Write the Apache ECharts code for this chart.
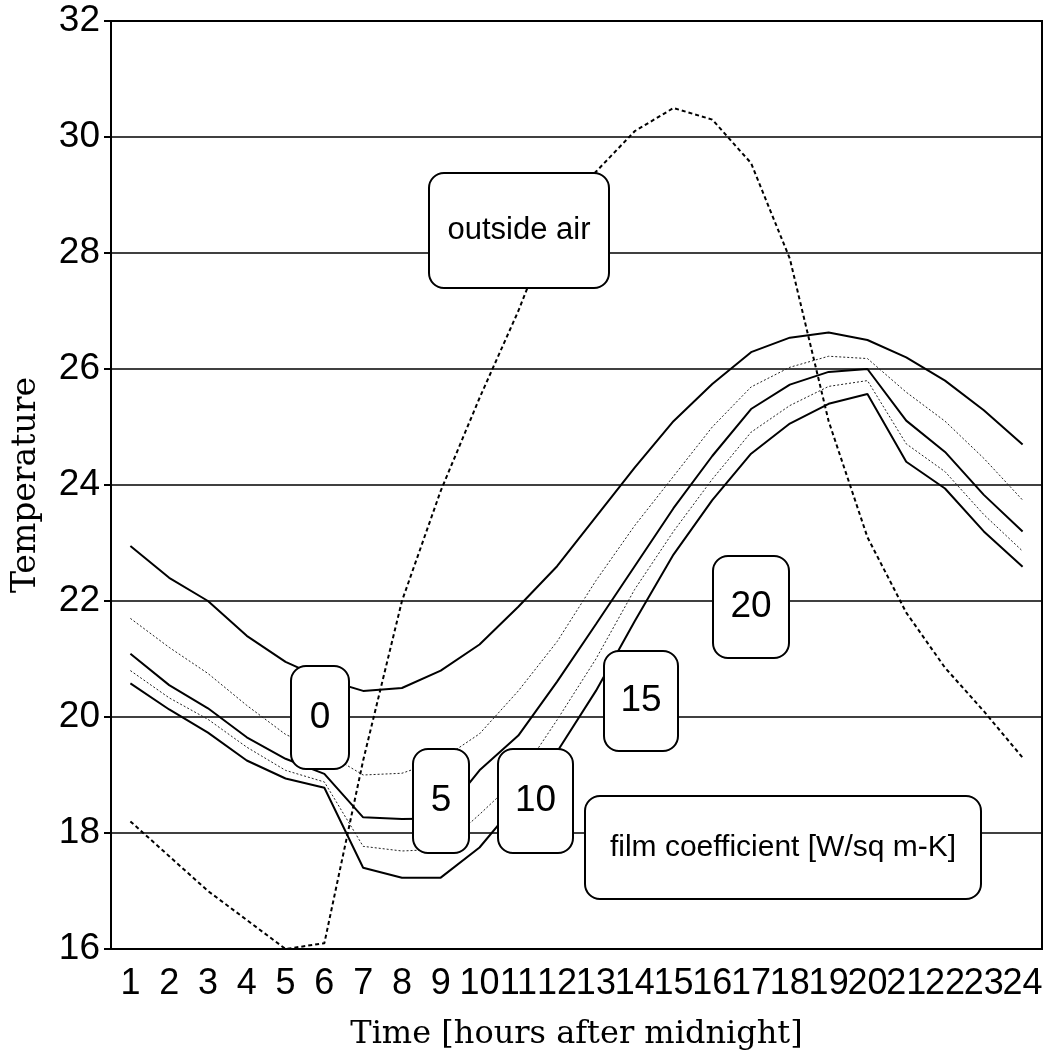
<!DOCTYPE html>
<html>
<head>
<meta charset="utf-8">
<title>Temperature</title>
<script src="https://cdn.jsdelivr.net/npm/echarts@6/dist/echarts.min.js"></script>
<style>
  html, body { margin: 0; padding: 0; background: #fff; }
  #chart { width: 1047px; height: 1056px; }
</style>
</head>
<body>
<div id="chart"></div>
<script>
const hours = ['1', '2', '3', '4', '5', '6', '7', '8', '9', '10', '11', '12',
  '13', '14', '15', '16', '17', '18', '19', '20', '21', '22', '23', '24'];

const outsideAir = [18.2, 17.6, 17.0, 16.5, 16.0, 16.1, 19.25, 22.0, 23.9, 25.5, 27.0, 28.7,
  29.4, 30.1, 30.5, 30.3, 29.55, 27.9, 25.1, 23.1, 21.8, 20.85, 20.1, 19.3];

// inside temperature for each film coefficient [W/sq m-K]
const film0 = [22.95, 22.4, 22.0, 21.4, 20.95, 20.65, 20.45, 20.5, 20.8, 21.25, 21.9, 22.6,
  23.45, 24.3, 25.1, 25.74, 26.29, 26.54, 26.63, 26.5, 26.2, 25.8, 25.29, 24.7];
const film5 = [21.7, 21.2, 20.75, 20.2, 19.7, 19.4, 19.0, 19.03, 19.26, 19.71, 20.45, 21.3,
  22.35, 23.3, 24.15, 25.0, 25.69, 26.03, 26.22, 26.18, 25.6, 25.1, 24.46, 23.74];
const film10 = [21.09, 20.55, 20.15, 19.65, 19.28, 19.02, 18.27, 18.24, 18.25, 19.08, 19.68, 20.61,
  21.6, 22.6, 23.6, 24.5, 25.31, 25.73, 25.95, 26.0, 25.11, 24.57, 23.83, 23.2];
const film15 = [20.8, 20.33, 19.96, 19.48, 19.08, 18.88, 17.77, 17.69, 17.72, 18.32, 18.95, 19.95,
  21.0, 22.2, 23.2, 24.1, 24.91, 25.37, 25.7, 25.8, 24.71, 24.23, 23.49, 22.86];
const film20 = [20.58, 20.13, 19.73, 19.25, 18.94, 18.78, 17.4, 17.23, 17.23, 17.75, 18.55, 19.4,
  20.45, 21.65, 22.8, 23.74, 24.54, 25.06, 25.4, 25.57, 24.4, 23.94, 23.2, 22.59];

const sansFont = '"Liberation Sans", Arial, sans-serif';
const serifFont = '"DejaVu Serif", serif';

const solidLine = { color: '#000', width: 2 };
const thinDotted = { color: '#222', width: 1, type: [2, 2] };

function lineSeries(name, data, lineStyle) {
  return {
    name: name,
    type: 'line',
    data: data,
    symbol: 'none',
    lineStyle: lineStyle,
    z: 3,
  };
}

// rounded white label box drawn over the lines
function labelBox(x, y, w, h, text, fontSize) {
  return {
    type: 'group',
    left: x,
    top: y,
    z: 100,
    children: [
      {
        type: 'rect',
        shape: { x: 0, y: 0, width: w, height: h, r: 15 },
        style: { fill: '#fff', stroke: '#000', lineWidth: 2 },
        z: 100,
      },
      {
        type: 'text',
        x: w / 2,
        y: h / 2,
        style: {
          text: text,
          fill: '#000',
          font: fontSize + 'px ' + sansFont,
          align: 'center',
          verticalAlign: 'middle',
        },
        z: 101,
      },
    ],
  };
}

const chart = echarts.init(document.getElementById('chart'));

const option = {
  animation: false,
  backgroundColor: '#fff',
  grid: {
    left: 111,
    right: 5,
    top: 21,
    bottom: 105,
    show: true,
    borderColor: '#000',
    borderWidth: 2,
  },
  xAxis: {
    type: 'category',
    data: hours,
    boundaryGap: true,
    name: 'Time [hours after midnight]',
    nameLocation: 'middle',
    nameGap: 70,
    nameTextStyle: { fontFamily: serifFont, fontSize: 32, color: '#000' },
    axisLine: { lineStyle: { color: '#000', width: 2 } },
    axisTick: { alignWithLabel: true, length: 10, lineStyle: { color: '#000', width: 2 } },
    axisLabel: {
      interval: 0,
      margin: 17,
      fontSize: 36,
      fontFamily: sansFont,
      color: '#000',
    },
    splitLine: { show: false },
  },
  yAxis: {
    type: 'value',
    min: 16,
    max: 32,
    interval: 2,
    name: 'Temperature',
    nameLocation: 'middle',
    nameRotate: 90,
    nameGap: 68,
    nameTextStyle: { fontFamily: serifFont, fontSize: 33, color: '#000' },
    axisLine: { show: true, lineStyle: { color: '#000', width: 2 } },
    axisTick: { show: true, length: 7, lineStyle: { color: '#000', width: 2 } },
    axisLabel: { margin: 11, fontSize: 37, fontFamily: sansFont, color: '#000' },
    splitLine: { show: true, lineStyle: { color: '#000', width: 1.5 } },
  },
  series: [
    lineSeries('outside air', outsideAir, { color: '#000', width: 2, type: [4, 3] }),
    lineSeries('0', film0, solidLine),
    lineSeries('5', film5, thinDotted),
    lineSeries('10', film10, solidLine),
    lineSeries('15', film15, thinDotted),
    lineSeries('20', film20, solidLine),
  ],
  graphic: [
    labelBox(428, 172, 180, 115, 'outside air', 31),
    labelBox(290, 665, 58, 103, '0', 37),
    labelBox(412, 748, 56, 104, '5', 37),
    labelBox(497, 748, 75, 104, '10', 37),
    labelBox(603, 650, 74, 100, '15', 37),
    labelBox(712, 555, 76, 102, '20', 37),
    labelBox(584, 795, 396, 103, 'film coefficient [W/sq m-K]', 30),
  ],
};

chart.setOption(option);
</script>
</body>
</html>
